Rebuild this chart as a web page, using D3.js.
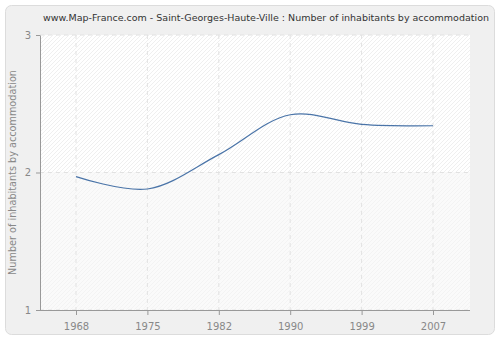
<!DOCTYPE html>
<html><head><meta charset="utf-8">
<script src="https://cdn.jsdelivr.net/npm/d3@7"></script>
<style>body{margin:0;background:#fff}svg{display:block}</style>
</head><body>
<svg id="c" width="500" height="340"></svg>
<script>
const years = ["1968","1975","1982","1990","1999","2007"];
const values = [1.97, 1.88, 2.13, 2.42, 2.35, 2.34];
const yTicks = [1, 2, 3];
const title = "www.Map-France.com - Saint-Georges-Haute-Ville : Number of inhabitants by accommodation";
const yLabel = "Number of inhabitants by accommodation";

const svg = d3.select("#c");
const font = "DejaVu Sans, Verdana, sans-serif";
const L = 40, R = 470, T = 35, B = 310;

const defs = svg.append("defs");
const p1 = defs.append("pattern").attr("id","h1").attr("patternUnits","userSpaceOnUse")
  .attr("width",4).attr("height",4);
p1.append("rect").attr("width",4).attr("height",4).attr("fill","#ffffff");
p1.append("path").attr("d","M-1,1 l2,-2 M0,4 l4,-4 M3,5 l2,-2").attr("stroke","#ebebeb").attr("stroke-width",0.8);
const p2 = defs.append("pattern").attr("id","h2").attr("patternUnits","userSpaceOnUse")
  .attr("width",4).attr("height",4);
p2.append("rect").attr("width",4).attr("height",4).attr("fill","#fafafa");
p2.append("path").attr("d","M-1,1 l2,-2 M0,4 l4,-4 M3,5 l2,-2").attr("stroke","#f1f1f1").attr("stroke-width",0.8);

svg.append("rect").attr("x",5.5).attr("y",5.5).attr("width",489).attr("height",329)
  .attr("rx",6).attr("fill","#f0f0f0").attr("stroke","#dcdcdc");

const x = d3.scalePoint().domain(years).range([76, 433]);
const y = d3.scaleLinear().domain([1,3]).range([B, T]);

svg.append("rect").attr("x",L).attr("y",T).attr("width",R-L).attr("height",y(2)-T).attr("fill","url(#h1)");
svg.append("rect").attr("x",L).attr("y",y(2)).attr("width",R-L).attr("height",B-y(2)).attr("fill","url(#h2)");

// grid
const g = svg.append("g");
years.forEach(yr => g.append("line").attr("x1",x(yr)).attr("x2",x(yr)).attr("y1",T).attr("y2",B)
  .attr("stroke","#e2e2e2").attr("stroke-dasharray","4,4"));
yTicks.forEach(v => g.append("line").attr("x1",L).attr("x2",R).attr("y1",y(v)).attr("y2",y(v))
  .attr("stroke","#e2e2e2").attr("stroke-dasharray","4,4"));

// axes
const xa = svg.append("g").attr("transform",`translate(0,${B})`)
  .call(d3.axisBottom(x).tickSize(5).tickSizeOuter(0));
xa.select(".domain").attr("d",`M${L},0.5H${R}`);
const ya = svg.append("g").attr("transform",`translate(${L},0)`)
  .call(d3.axisLeft(y).tickValues(yTicks).tickFormat(d3.format("d")).tickSize(4).tickSizeOuter(0));
[xa, ya].forEach(a => {
  a.select(".domain").attr("stroke","#999");
  a.selectAll(".tick line").attr("stroke","#999");
  a.selectAll(".tick text").attr("fill","#888").attr("font-family",font).attr("font-size",10);
});
xa.selectAll(".tick text").attr("dy","1.2em");
ya.selectAll(".tick text").attr("dx","-2");

// line
const line = d3.line().x((d,i)=>x(years[i])).y(d=>y(d)).curve(d3.curveCatmullRom);
svg.append("path").datum(values).attr("d",line).attr("fill","none")
  .attr("stroke","#4a74a8").attr("stroke-width",1.2);

const tt = svg.append("text").attr("x",266).attr("y",21).attr("text-anchor","middle")
  .attr("font-family",font).attr("font-size",10).attr("fill","#333").text(title);
const w = tt.node().getComputedTextLength();
if (w > 446) tt.attr("font-size", 10 * 446 / w);
const yl = svg.append("text").attr("transform",`translate(16,${(T+B)/2}) rotate(-90)`).attr("text-anchor","middle")
  .attr("font-family",font).attr("font-size",10).attr("fill","#888").text(yLabel);
const w2 = yl.node().getComputedTextLength();
if (w2 > 205) yl.attr("font-size", 10 * 205 / w2);
</script>
</body></html>
